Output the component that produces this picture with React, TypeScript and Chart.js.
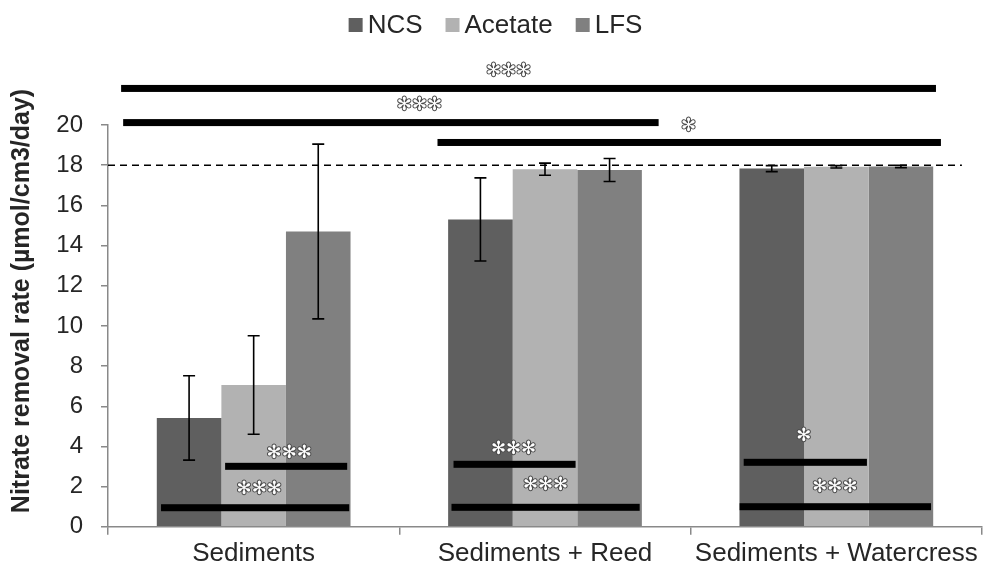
import React, { useEffect, useRef } from "react";
import { Chart, registerables } from "chart.js";

Chart.register(...registerables);

// ---- data ----
const categories = ["Sediments", "Sediments + Reed", "Sediments + Watercress"];
const seriesNames = ["NCS", "Acetate", "LFS"];
const ncsValues = [5.42, 15.3, 17.83];
const acetateValues = [7.06, 17.8, 17.92];
const lfsValues = [14.7, 17.76, 17.93];
const ncsErrors = [2.1, 2.07, 0.15];
const acetateErrors = [2.45, 0.3, 0.06];
const lfsErrors = [4.35, 0.57, 0.06];
const seriesColors = ["#5f5f5f", "#b2b2b2", "#808080"];
const yMin = 0;
const yMax = 20;
const yStep = 2;
const referenceLevel = 18;
const referenceEnd = 2.431; // in category units
const yAxisTitle = "Nitrate removal rate (µmol/cm3/day)";

// significance brackets (x in category units, y in data units)
const sigLineStart = [-0.455, -0.448, 0.631, -0.098, -0.318, 0.686, 0.679, 1.682, 1.668];
const sigLineEnd = [2.342, 1.39, 2.359, 0.321, 0.328, 1.105, 1.325, 2.105, 2.325];
const sigLineLevel = [21.82, 20.12, 19.13, 3.01, 0.95, 3.11, 0.97, 3.21, 1.0];
const sigMarks = ["✻✻✻", "✻✻✻", "✻", "✻✻✻", "✻✻✻", "✻✻✻", "✻✻✻", "✻", "✻✻✻"];
const sigMarkX = [0.875, 0.569, 1.493, 0.122, 0.019, 0.892, 1.002, 1.888, 1.995];
const sigMarkLevel = [22.69, 21.0, 19.95, 3.68, 1.89, 3.88, 2.04, 4.48, 1.94];

const seriesValues = [ncsValues, acetateValues, lfsValues];
const seriesErrors = [ncsErrors, acetateErrors, lfsErrors];

const FONT = "'Liberation Sans', Arial, sans-serif";
const TEXT = "#262626";
const AXIS = "#898989";

const overlayPlugin = {
  id: "overlay",
  afterDatasetsDraw(chart: any) {
    const ctx = chart.ctx;
    const xs = chart.scales.x;
    const ys = chart.scales.y;
    const x0 = xs.getPixelForValue(0);
    const step = xs.getPixelForValue(1) - x0;
    const cx = (v: number) => x0 + v * step;
    ctx.save();

    // error bars
    chart.data.datasets.forEach((ds: any, di: number) => {
      const meta = chart.getDatasetMeta(di);
      meta.data.forEach((bar: any, i: number) => {
        const v = ds.data[i];
        const e = seriesErrors[di][i];
        const yt = ys.getPixelForValue(v + e);
        const yb = ys.getPixelForValue(v - e);
        ctx.strokeStyle = "#000";
        ctx.lineWidth = 1.6;
        ctx.beginPath();
        ctx.moveTo(bar.x, yt);
        ctx.lineTo(bar.x, yb);
        ctx.moveTo(bar.x - 6, yt);
        ctx.lineTo(bar.x + 6, yt);
        ctx.moveTo(bar.x - 6, yb);
        ctx.lineTo(bar.x + 6, yb);
        ctx.stroke();
      });
    });

    // dashed reference line
    const yr = ys.getPixelForValue(referenceLevel);
    ctx.strokeStyle = "#000";
    ctx.lineWidth = 1.6;
    ctx.setLineDash([7, 5]);
    ctx.beginPath();
    ctx.moveTo(chart.chartArea.left, yr);
    ctx.lineTo(cx(referenceEnd), yr);
    ctx.stroke();
    ctx.setLineDash([]);

    // significance lines
    ctx.fillStyle = "#000";
    sigLineLevel.forEach((lv, i) => {
      const y = ys.getPixelForValue(lv);
      const a = cx(sigLineStart[i]);
      const b = cx(sigLineEnd[i]);
      ctx.fillRect(a, y - 3.5, b - a, 7);
    });

    // significance marks
    ctx.font = `18px 'DejaVu Sans', sans-serif`;
    ctx.textAlign = "center";
    ctx.textBaseline = "middle";
    ctx.lineJoin = "round";
    sigMarks.forEach((m, i) => {
      const x = cx(sigMarkX[i]);
      const y = ys.getPixelForValue(sigMarkLevel[i]);
      ctx.strokeStyle = "#4a4a4a";
      ctx.lineWidth = 2;
      ctx.strokeText(m, x, y);
      ctx.fillStyle = "#ffffff";
      ctx.fillText(m, x, y);
    });
    ctx.restore();
  },
  afterDraw(chart: any) {
    const ctx = chart.ctx;
    ctx.save();
    // y-axis title
    ctx.font = `bold 25px ${FONT}`;
    ctx.fillStyle = TEXT;
    ctx.textAlign = "center";
    ctx.textBaseline = "middle";
    ctx.translate(22, 301);
    ctx.rotate(-Math.PI / 2);
    ctx.fillText(yAxisTitle, 0, 0);
    ctx.restore();

    // legend
    ctx.save();
    ctx.font = `26px ${FONT}`;
    ctx.textBaseline = "alphabetic";
    ctx.textAlign = "left";
    const box = 14;
    const gapBoxText = 5;
    const gapItems = 23;
    const ds = chart.data.datasets;
    const widths = ds.map((d: any) => box + gapBoxText + ctx.measureText(d.label).width);
    const total = widths.reduce((s: number, w: number) => s + w, 0) + gapItems * (ds.length - 1);
    let x = chart.width / 2 + 3 - total / 2;
    ds.forEach((d: any, i: number) => {
      ctx.fillStyle = d.backgroundColor;
      ctx.fillRect(x, 18, box, box);
      ctx.fillStyle = TEXT;
      ctx.fillText(d.label, x + box + gapBoxText, 33);
      x += widths[i] + gapItems;
    });
    ctx.restore();
  },
};

export default function App() {
  const ref = useRef<HTMLCanvasElement | null>(null);
  useEffect(() => {
    document.body.style.margin = "0";
    const canvas = ref.current;
    if (!canvas) return;
    const chart = new Chart(canvas, {
      type: "bar",
      data: {
        labels: categories,
        datasets: seriesNames.map((name, i) => ({
          label: name,
          data: seriesValues[i],
          backgroundColor: seriesColors[i],
          borderWidth: 0,
          barPercentage: 1,
          categoryPercentage: 0.665,
        })),
      },
      options: {
        responsive: false,
        animation: false,
        devicePixelRatio: 1,
        layout: { padding: { top: 125, left: 0, right: 3, bottom: 0 } },
        plugins: {
          legend: { display: false },
          tooltip: { enabled: false },
          title: { display: false },
        },
        scales: {
          x: {
            grid: {
              display: true,
              drawOnChartArea: false,
              drawTicks: true,
              tickLength: 8,
              color: AXIS,
              lineWidth: 1.5,
              offset: true,
            },
            border: { display: true, color: AXIS, width: 1.5 },
            ticks: {
              color: TEXT,
              font: { family: FONT, size: 26 },
              padding: 3,
              maxRotation: 0,
              autoSkip: false,
            },
          },
          y: {
            min: yMin,
            max: yMax,
            afterFit: (scale: any) => {
              scale.width = 108;
            },
            grid: {
              display: true,
              drawOnChartArea: false,
              drawTicks: true,
              tickLength: 7,
              color: AXIS,
              lineWidth: 1.5,
            },
            border: { display: true, color: AXIS, width: 1.5 },
            ticks: {
              stepSize: yStep,
              color: TEXT,
              font: { family: FONT, size: 24 },
              padding: 18,
            },
          },
        },
      },
      plugins: [overlayPlugin],
    });
    return () => chart.destroy();
  }, []);
  return (
    <div style={{ width: 985, height: 572 }}>
      <canvas ref={ref} width={985} height={572} style={{ display: "block" }} />
    </div>
  );
}
